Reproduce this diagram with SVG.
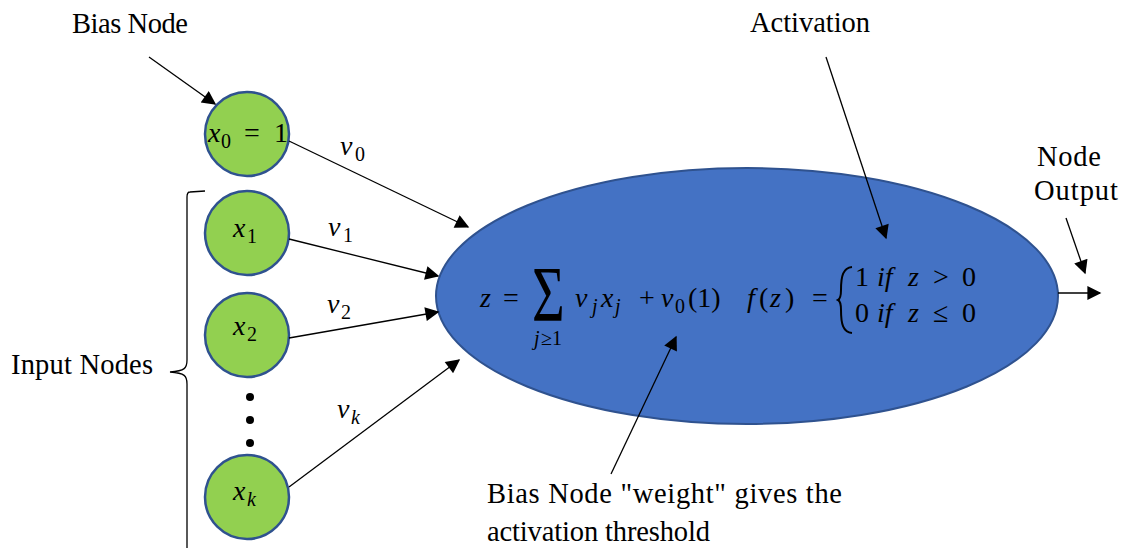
<svg xmlns="http://www.w3.org/2000/svg" width="1125" height="552" viewBox="0 0 1125 552">
<defs>
<marker id="ahL" viewBox="0 0 10 10" refX="9" refY="5" markerWidth="16" markerHeight="14" markerUnits="userSpaceOnUse" orient="auto"><path d="M0,0 L10,5 L0,10 z" fill="#000"/></marker>
</defs>
<style>
.lbl{font-family:"Liberation Serif",serif;font-size:28.5px;fill:#000}
.m{font-family:"Liberation Serif",serif;font-size:28px;fill:#000}
.mi{font-style:italic}
.s{font-family:"Liberation Serif",serif;font-size:20px;fill:#000}
.sig{font-family:"Liberation Serif",serif;font-size:76px;fill:#000}
.node{fill:#92D050;stroke:#2F528F;stroke-width:2.5}
.conn{stroke:#000;stroke-width:1.3;fill:none;marker-end:url(#ahL)}
</style>
<rect width="1125" height="552" fill="#fff"/>
<g id="texts">
<text class="lbl" x="72" y="33" textLength="116" lengthAdjust="spacing">Bias Node</text>
<text class="lbl" x="750" y="32" textLength="120" lengthAdjust="spacing">Activation</text>
<text class="lbl" x="1037" y="166" textLength="64" lengthAdjust="spacing">Node</text>
<text class="lbl" x="1034" y="200" textLength="84" lengthAdjust="spacing">Output</text>
<text class="lbl" x="11" y="374" textLength="142" lengthAdjust="spacing">Input Nodes</text>
<text class="lbl" x="487" y="503" textLength="355" lengthAdjust="spacing">Bias Node "weight" gives the</text>
<text class="lbl" x="487" y="541" textLength="223" lengthAdjust="spacing">activation threshold</text>
</g>
<g id="activation-node">
<ellipse cx="747" cy="296" rx="311" ry="128" fill="#4472C4" stroke="#2F528F" stroke-width="2"/>
<text class="m mi" x="480" y="307">z</text>
<text class="m" x="503" y="307">=</text>
<text class="sig" transform="translate(532,320) scale(0.74,1.02)">Σ</text>
<text class="s mi" x="534" y="345">j</text>
<text class="s" x="541" y="345">≥1</text>
<text class="m mi" x="575" y="307">v</text>
<text class="s mi" x="592" y="313">j</text>
<text class="m mi" x="601" y="307">x</text>
<text class="s mi" x="615" y="313">j</text>
<text class="m" x="639" y="307">+</text>
<text class="m mi" x="661" y="307">v</text>
<text class="s" x="675" y="313">0</text>
<text class="m" x="688" y="307">(1)</text>
<text class="m mi" x="747" y="307">f</text>
<text class="m" x="759" y="307">(</text>
<text class="m mi" x="770" y="307">z</text>
<text class="m" x="785" y="307">)</text>
<text class="m" x="812" y="307">=</text>
<path d="M852,267 C843,268 841,276 841,290 C841,296 840,299 838,300 C840,301 841,304 841,310 C841,324 843,332 852,333" fill="none" stroke="#000" stroke-width="2"/>
<text class="m" x="855" y="286">1</text>
<text class="m mi" x="877" y="286">if</text>
<text class="m mi" x="908" y="286">z</text>
<text class="m" x="933" y="286">&gt;</text>
<text class="m" x="962" y="286">0</text>
<text class="m" x="855" y="322">0</text>
<text class="m mi" x="877" y="322">if</text>
<text class="m mi" x="908" y="322">z</text>
<text class="m" x="933" y="322">≤</text>
<text class="m" x="962" y="322">0</text>
</g>
<g id="bias-node">
<circle class="node" cx="247" cy="134" r="42"/>
<text class="m mi" x="208" y="142">x</text>
<text class="s" x="221" y="148">0</text>
<text class="m" x="244" y="142">=</text>
<text class="m" x="274" y="142">1</text>
</g>
<g id="input-x1">
<circle class="node" cx="247" cy="233" r="42"/>
<text class="m mi" x="233" y="237">x</text>
<text class="s" x="247" y="243">1</text>
</g>
<g id="input-x2">
<circle class="node" cx="247" cy="335" r="42"/>
<text class="m mi" x="233" y="335">x</text>
<text class="s" x="247" y="341">2</text>
</g>
<g id="input-xk">
<circle class="node" cx="247" cy="497" r="42"/>
<text class="m mi" x="233" y="500">x</text>
<text class="s mi" x="247" y="506">k</text>
</g>
<g id="ellipsis">
<circle cx="250" cy="397" r="4" fill="#000"/>
<circle cx="250" cy="420" r="4" fill="#000"/>
<circle cx="250" cy="443" r="4" fill="#000"/>
</g>
<g id="bracket">
<path d="M205,191 L190,192 C188,192 187,194 187,197 L187,360 C187,368 185,371 170,372 C185,373 187,376 187,384 L187,548" fill="none" stroke="#000" stroke-width="1.3"/>
</g>
<g id="weight-labels">
<text class="m mi" x="340" y="155">v</text>
<text class="s" x="355" y="161">0</text>
<text class="m mi" x="328" y="236">v</text>
<text class="s" x="343" y="242">1</text>
<text class="m mi" x="327" y="313">v</text>
<text class="s" x="341" y="319">2</text>
<text class="m mi" x="337" y="418">v</text>
<text class="s mi" x="351" y="424">k</text>
</g>
<g id="connectors">
<line class="conn" x1="149" y1="57" x2="215" y2="104"/>
<line class="conn" x1="289" y1="141" x2="468" y2="227"/>
<line class="conn" x1="289" y1="239" x2="438" y2="276"/>
<line class="conn" x1="289" y1="338" x2="438" y2="312"/>
<line class="conn" x1="289" y1="487" x2="459" y2="360"/>
<line class="conn" x1="826" y1="57" x2="886" y2="238"/>
<line class="conn" x1="1066" y1="218" x2="1085" y2="273"/>
<line class="conn" x1="1058" y1="293" x2="1100" y2="293"/>
<line class="conn" x1="611" y1="474" x2="676" y2="337"/>
</g>
</svg>
